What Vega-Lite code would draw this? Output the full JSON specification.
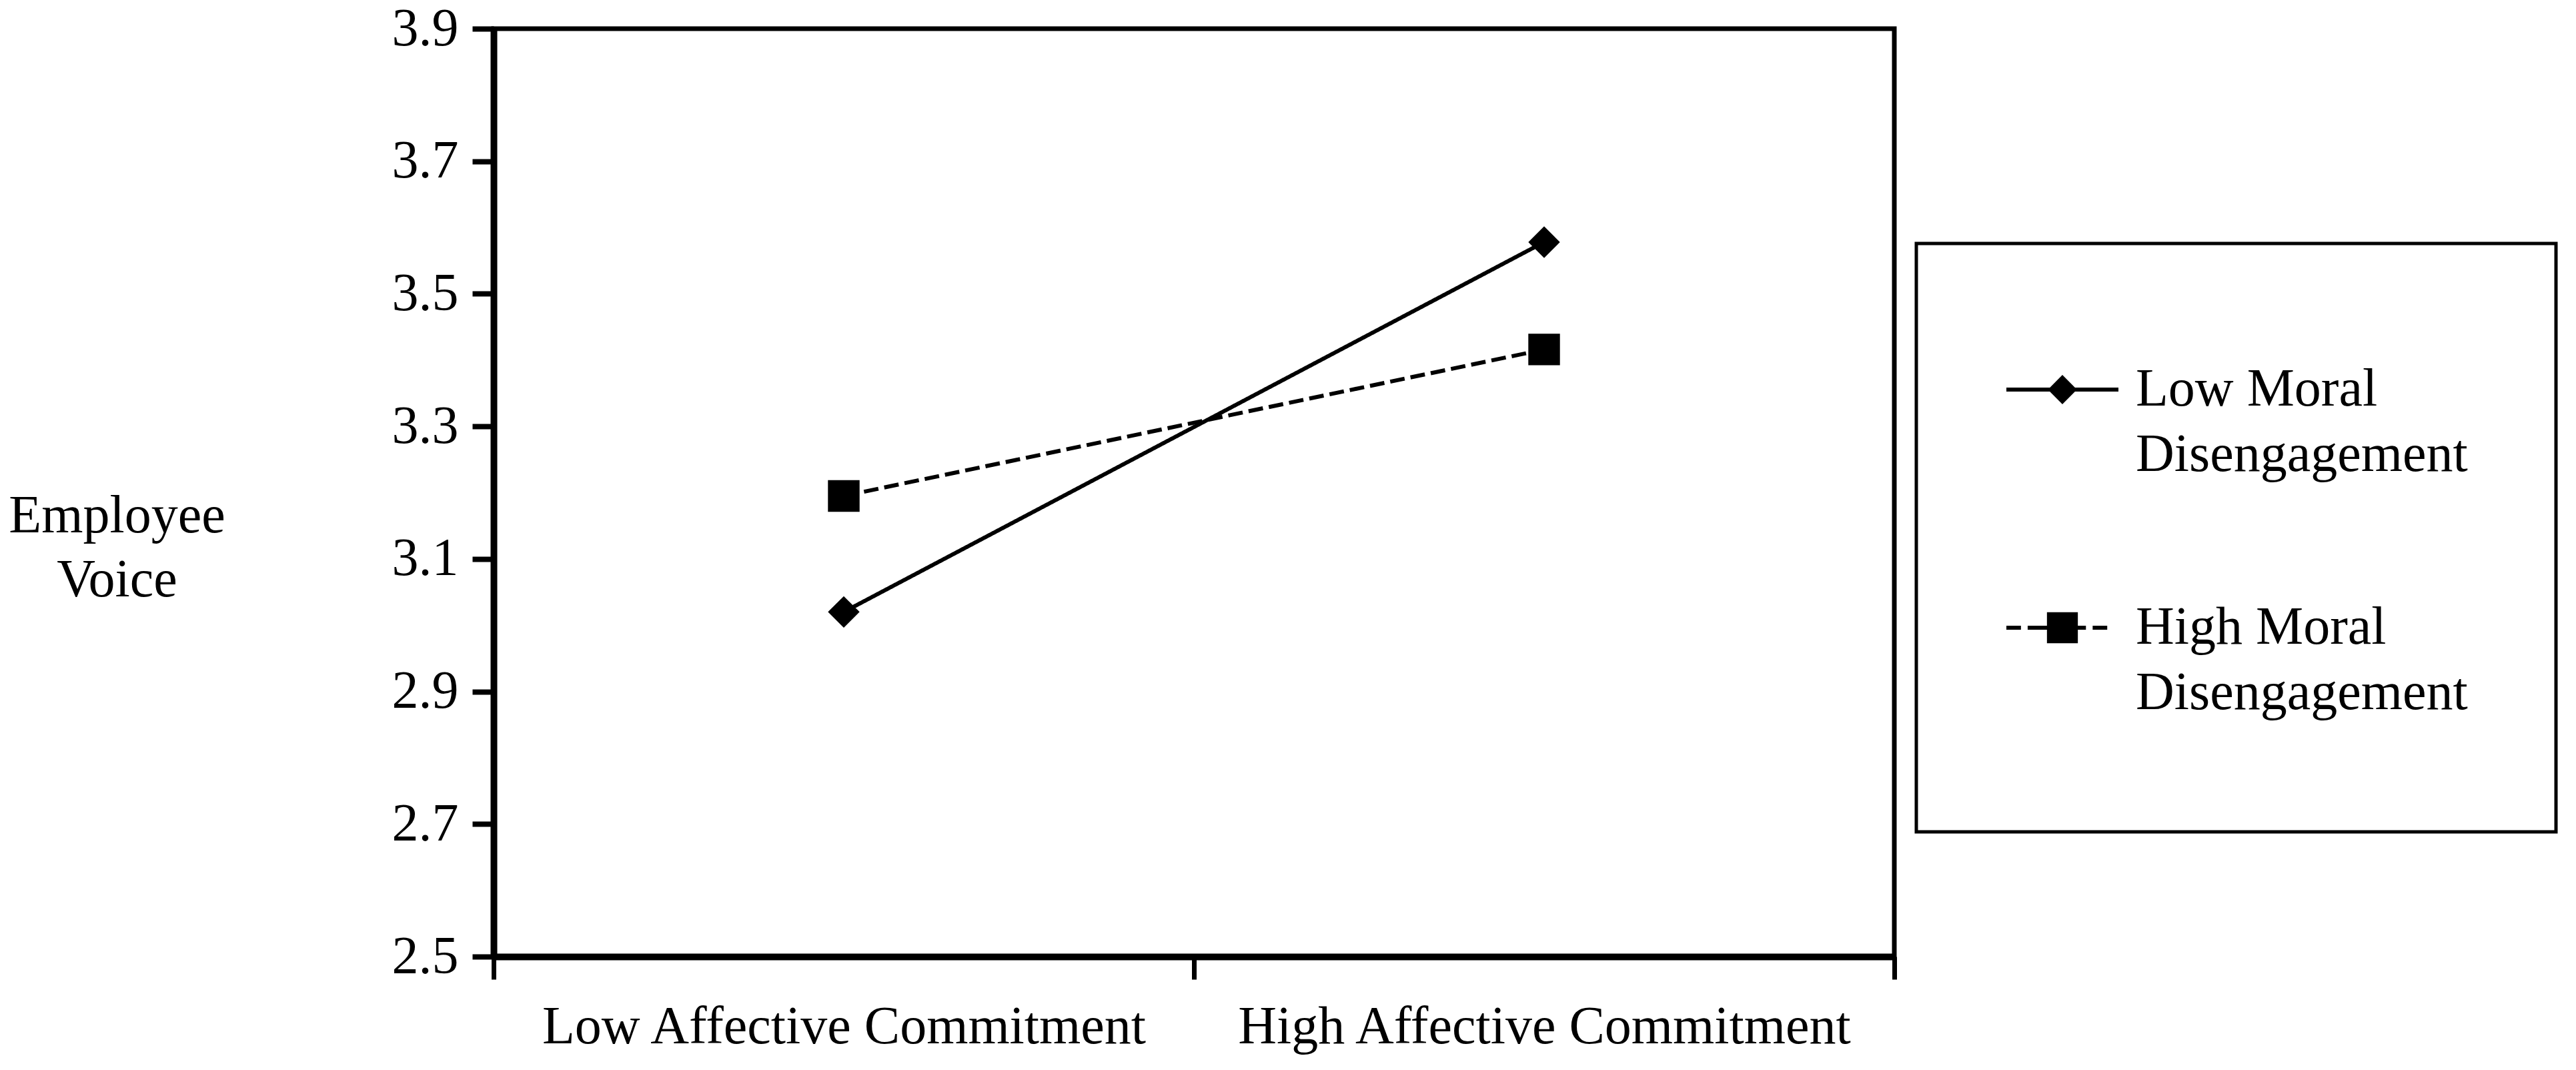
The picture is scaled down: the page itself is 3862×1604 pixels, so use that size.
{
  "$schema": "https://vega.github.io/schema/vega-lite/v6.json",
  "width": 2100,
  "height": 1391,
  "autosize": {"type": "none"},
  "padding": {"left": 740, "top": 43, "right": 1022, "bottom": 170},
  "background": "white",
  "data": {
    "values": [
      {"commitment": "Low Affective Commitment", "group": "Low Moral Disengagement", "voice": 3.02},
      {"commitment": "High Affective Commitment", "group": "Low Moral Disengagement", "voice": 3.578},
      {"commitment": "Low Affective Commitment", "group": "High Moral Disengagement", "voice": 3.195},
      {"commitment": "High Affective Commitment", "group": "High Moral Disengagement", "voice": 3.416}
    ]
  },
  "encoding": {
    "x": {
      "field": "commitment",
      "type": "nominal",
      "sort": ["Low Affective Commitment", "High Affective Commitment"],
      "scale": {"type": "band", "paddingInner": 0, "paddingOuter": 0},
      "axis": {
        "title": null,
        "labelAngle": 0,
        "tickBand": "extent",
        "tickSize": 34,
        "tickWidth": 7,
        "domainWidth": 10,
        "labelPadding": 32,
        "labelLimit": 2000
      }
    },
    "y": {
      "field": "voice",
      "type": "quantitative",
      "scale": {"domain": [2.5, 3.9], "nice": false, "zero": false},
      "axis": {
        "values": [2.5, 2.7, 2.9, 3.1, 3.3, 3.5, 3.7, 3.9],
        "format": ".1f",
        "tickSize": 32,
        "tickWidth": 8,
        "domainWidth": 10,
        "labelPadding": 21,
        "title": ["Employee", "Voice"],
        "titleAngle": 0,
        "titleAlign": "center",
        "titleBaseline": "top",
        "titleX": -565,
        "titleY": 691,
        "titleLineHeight": 96
      }
    }
  },
  "layer": [
    {
      "mark": {"type": "line", "color": "black", "strokeWidth": 6},
      "encoding": {
        "strokeDash": {
          "field": "group",
          "type": "nominal",
          "scale": {
            "domain": ["Low Moral Disengagement", "High Moral Disengagement"],
            "range": [[1, 0], [22, 9]]
          },
          "legend": null
        }
      }
    },
    {
      "mark": {"type": "point", "filled": true, "color": "black", "opacity": 1, "size": 2250},
      "encoding": {
        "shape": {
          "field": "group",
          "type": "nominal",
          "scale": {
            "domain": ["Low Moral Disengagement", "High Moral Disengagement"],
            "range": ["diamond", "square"]
          },
          "legend": null
        }
      }
    },
    {
      "transform": [{"filter": "false"}],
      "mark": {"type": "point", "filled": true, "fill": "black", "stroke": "black", "strokeWidth": 6, "opacity": 1},
      "encoding": {
        "shape": {
          "field": "group",
          "type": "nominal",
          "scale": {
            "domain": ["Low Moral Disengagement", "High Moral Disengagement"],
            "range": [
              "M-1,0L-0.21,0M0.21,0L1,0M-0.21,0L0,-0.21L0.21,0L0,0.21Z",
              "M-1,0L-0.74,0M-0.62,0L-0.24,0M0.24,0L0.42,0M0.54,0L0.8,0M-0.24,-0.24L0.24,-0.24L0.24,0.24L-0.24,0.24Z"
            ]
          },
          "legend": {
            "title": " ",
            "titleOrient": "bottom",
            "titleFontSize": 27,
            "titlePadding": 10,
            "orient": "none",
            "legendX": 2133,
            "legendY": 322,
            "padding": 132,
            "strokeColor": "black",
            "symbolSize": 28224,
            "symbolStrokeWidth": 6,
            "symbolFillColor": "black",
            "symbolStrokeColor": "black",
            "symbolOpacity": 1,
            "labelFont": "Liberation Serif",
            "labelFontSize": 80,
            "labelColor": "black",
            "labelLimit": 2000,
            "labelOffset": 23,
            "rowPadding": 132,
            "labelExpr": "[replace(datum.label, ' Disengagement', ''), 'Disengagement']",
            "encoding": {
              "legend": {"strokeWidth": {"value": 5}},
              "labels": {"lineHeight": {"value": 98}},
              "symbols": {"stroke": {"value": "black"}, "strokeWidth": {"value": 6}, "fill": {"value": "black"}}
            }
          }
        }
      }
    }
  ],
  "resolve": {"scale": {"shape": "independent"}},
  "config": {
    "font": "Liberation Serif",
    "view": {"stroke": "black", "strokeWidth": 7},
    "axis": {
      "labelFont": "Liberation Serif",
      "titleFont": "Liberation Serif",
      "labelFontSize": 80,
      "titleFontSize": 80,
      "titleFontWeight": "normal",
      "labelColor": "black",
      "titleColor": "black",
      "domainColor": "black",
      "tickColor": "black",
      "grid": false
    }
  }
}
